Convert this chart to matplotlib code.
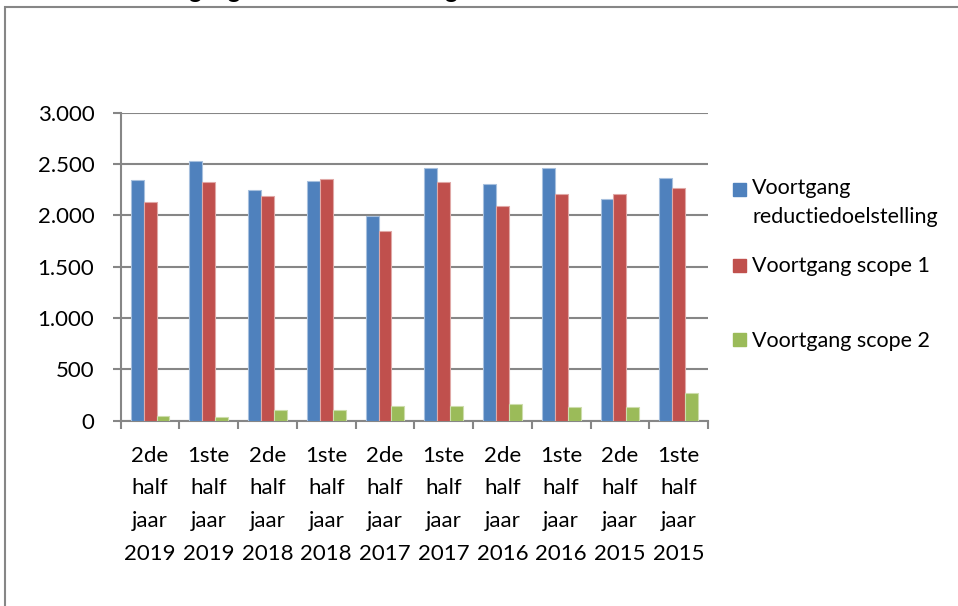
"""Voortgang reductiedoelstelling per half jaar (2015-2019).

Clustered bar chart, Excel style: three series per half year, Dutch
thousands separator on the value axis and a hand placed legend on the right.
"""

import textwrap

import matplotlib

matplotlib.use("Agg")
import matplotlib.pyplot as plt
import numpy as np
from matplotlib.patches import Rectangle
from matplotlib.ticker import FixedLocator, FuncFormatter

# ---------------------------------------------------------------------------
# Data
# ---------------------------------------------------------------------------

HALVES = ["2de", "1ste", "2de", "1ste", "2de", "1ste", "2de", "1ste", "2de", "1ste"]
YEARS = [2019, 2019, 2018, 2018, 2017, 2017, 2016, 2016, 2015, 2015]

SERIES_NAMES = [
    "Voortgang reductiedoelstelling",
    "Voortgang scope 1",
    "Voortgang scope 2",
]
REDUCTIE = [2344, 2529, 2246, 2337, 1990, 2461, 2305, 2458, 2159, 2360]
SCOPE_1 = [2133, 2321, 2191, 2353, 1847, 2321, 2091, 2205, 2208, 2266]
SCOPE_2 = [43, 40, 107, 104, 143, 143, 159, 130, 133, 269]

TITLE = "Voortgang reductiedoelstelling"
Y_TICKS = [0, 500, 1000, 1500, 2000, 2500, 3000]

# ---------------------------------------------------------------------------
# Style
# ---------------------------------------------------------------------------

W, H = 958, 606
COLOURS = ["#4F81BD", "#C0504D", "#9BBB59"]
EDGES = ["#A7C0DE", "#E0A8A6", "#CDDDAC"]
GREY = "#868686"
BAR_W = 0.22
LEGEND_STEP = 27  # px between wrapped legend lines


def px(x, y):
    """Pixel position (top-left origin) to figure fraction."""
    return x / W, 1 - y / H


def thousands(v, _pos):
    return f"{int(v):,}".replace(",", ".")


def main() -> None:
    plt.rcParams["font.family"] = ["Lato", "DejaVu Sans"]

    fig = plt.figure(figsize=(W / 100, H / 100), dpi=100)
    left, top = px(120.7, 112.7)
    right, bottom = px(708, 420.7)
    ax = fig.add_axes([left, bottom, right - left, top - bottom])

    series = [REDUCTIE, SCOPE_1, SCOPE_2]
    x = np.arange(len(HALVES))
    for i, values in enumerate(series):
        offset = (i - 1) * BAR_W
        ax.bar(
            x + offset,
            values,
            width=BAR_W,
            color=COLOURS[i],
            edgecolor=EDGES[i],
            linewidth=0.8,
            zorder=3,
        )

    ax.set_xlim(-0.5, len(HALVES) - 0.5)
    ax.set_ylim(0, 3000)

    # value axis
    ax.set_yticks(Y_TICKS)
    ax.yaxis.set_major_formatter(FuncFormatter(thousands))
    ax.grid(axis="y", color=GREY, linewidth=1.5, zorder=0)
    ax.tick_params(axis="y", length=6, width=1.5, color=GREY, pad=13, labelsize=16)

    # category axis: labels centred, ticks on the boundaries
    labels = [f"{h}\nhalf\njaar\n{y}" for h, y in zip(HALVES, YEARS)]
    ax.set_xticks(x)
    ax.set_xticklabels(labels, linespacing=1.8)
    ax.xaxis.set_minor_locator(FixedLocator(np.arange(len(HALVES) + 1) - 0.5))
    ax.tick_params(axis="x", which="major", length=0, pad=18, labelsize=16)
    ax.tick_params(axis="x", which="minor", length=6, width=1.5, color=GREY)

    for side in ("top", "right"):
        ax.spines[side].set_visible(False)
    for side in ("left", "bottom"):
        ax.spines[side].set_color(GREY)
        ax.spines[side].set_linewidth(1.5)
    ax.set_axisbelow(True)

    # legend, placed by hand to match the Excel layout
    legend_rows = [189, 265, 340]
    for name, colour, row in zip(SERIES_NAMES, COLOURS, legend_rows):
        mx, my = px(733, row + 6.5)
        fig.add_artist(
            Rectangle((mx, my), 13 / W, 13 / H, color=colour, transform=fig.transFigure)
        )
        text = textwrap.fill(name, 20)
        n_lines = text.count("\n") + 1
        # baseline alignment anchors the last line of a wrapped label
        tx, ty = px(752, row + 7 + (n_lines - 1) * LEGEND_STEP)
        fig.text(tx, ty, text, fontsize=15.5, va="baseline", linespacing=1.55)

    # outer chart frame and the title above it, mostly cut off by the crop
    fx, fy = px(5, 7)
    fig.add_artist(
        Rectangle((fx, -0.2), 1.2, fy + 0.2, fill=False, edgecolor=GREY,
                  linewidth=1.5, transform=fig.transFigure)
    )
    tx, ty = px(127, -1.5)
    fig.text(tx, ty, TITLE, fontsize=17.4, fontweight="bold", va="baseline")

    fig.savefig("out.png", dpi=100)
    plt.close(fig)


if __name__ == "__main__":
    main()
